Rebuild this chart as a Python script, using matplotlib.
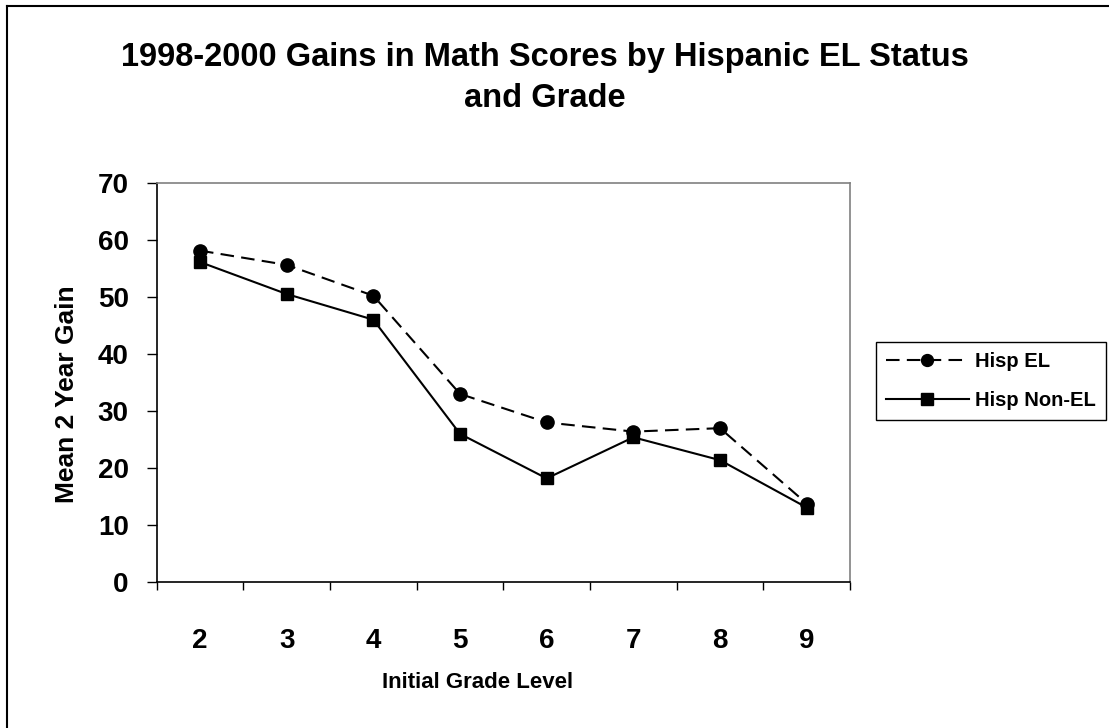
import numpy as np
import matplotlib
matplotlib.use('Agg')
import matplotlib.pyplot as plt
from matplotlib.lines import Line2D

plt.rcParams['font.family'] = 'Liberation Sans'
plt.rcParams['font.weight'] = 'bold'

# 学年ごとの2年間の平均伸び
grades = ['2', '3', '4', '5', '6', '7', '8', '9']
hisp_el = [58.1, 55.6, 50.2, 33.0, 28.0, 26.4, 27.0, 13.8]
hisp_non_el = [56.1, 50.5, 46.0, 26.0, 18.2, 25.4, 21.4, 13.1]
series_names = ['Hisp EL', 'Hisp Non-EL']

title = '1998-2000 Gains in Math Scores by Hispanic EL Status\nand Grade'

W, H = 1109, 728
fig = plt.figure(figsize=(W / 100, H / 100), dpi=100)

# グラフ全体の枠（左と上だけ見える）
fig.add_artist(Line2D([6.5 / W, 6.5 / W], [0, 1 - 6 / H], color='black', lw=1.5))
fig.add_artist(Line2D([6.5 / W, 1], [1 - 6 / H, 1 - 6 / H], color='black', lw=1.5))

# プロット領域
ax = fig.add_axes([156.7 / W, 1 - 582.3 / H, (850 - 156.7) / W, (582.3 - 182.7) / H])

x = np.arange(len(grades))
ax.plot(x, hisp_el, color='black', lw=1.5, ls=(0, (6.5, 3.5)),
        marker='o', markersize=9.5, label=series_names[0])
ax.plot(x, hisp_non_el, color='black', lw=1.5, ls='-',
        marker='s', markersize=9, label=series_names[1])

ax.set_xlim(-0.5, len(grades) - 0.5)
ax.set_ylim(0, 70)
ax.set_yticks(range(0, 71, 10))
ax.set_xticks(x)
ax.set_xticklabels(grades)
ax.set_xticks(np.arange(-0.5, len(grades)), minor=True)

ax.tick_params(axis='y', which='major', direction='out', length=7.2, width=1,
               pad=13, labelsize=20)
ax.tick_params(axis='x', which='major', length=0, pad=33, labelsize=20)
ax.tick_params(axis='x', which='minor', direction='out', length=6, width=1)

for side in ['top', 'right']:
    ax.spines[side].set_color('#808080')
    ax.spines[side].set_linewidth(1.2)
for side in ['left', 'bottom']:
    ax.spines[side].set_color('black')
    ax.spines[side].set_linewidth(1.2)

ax.set_xlabel('Initial Grade Level', fontsize=16, fontweight='bold')
ax.xaxis.set_label_coords(0.4634, -0.252)
ax.xaxis.label.set_va('center')
ax.set_ylabel('Mean 2 Year Gain', fontsize=19, fontweight='bold')
ax.yaxis.set_label_coords(-0.13, 0.47)
ax.yaxis.label.set_va('center')

fig.text(545 / W, 1 - 78 / H, title, ha='center', va='center',
         fontsize=23.5, fontweight='bold', linespacing=1.45)

leg = ax.legend(loc='upper left', bbox_to_anchor=(876 / W, 1 - 342 / H),
                bbox_transform=fig.transFigure, borderaxespad=0,
                fontsize=14.5, handlelength=4.1, handletextpad=0.3,
                borderpad=0.5, labelspacing=1.0, markerscale=0.9,
                fancybox=False, framealpha=1)
leg.get_frame().set_edgecolor('black')
leg.get_frame().set_linewidth(1)

fig.savefig('out.png', dpi=100)
